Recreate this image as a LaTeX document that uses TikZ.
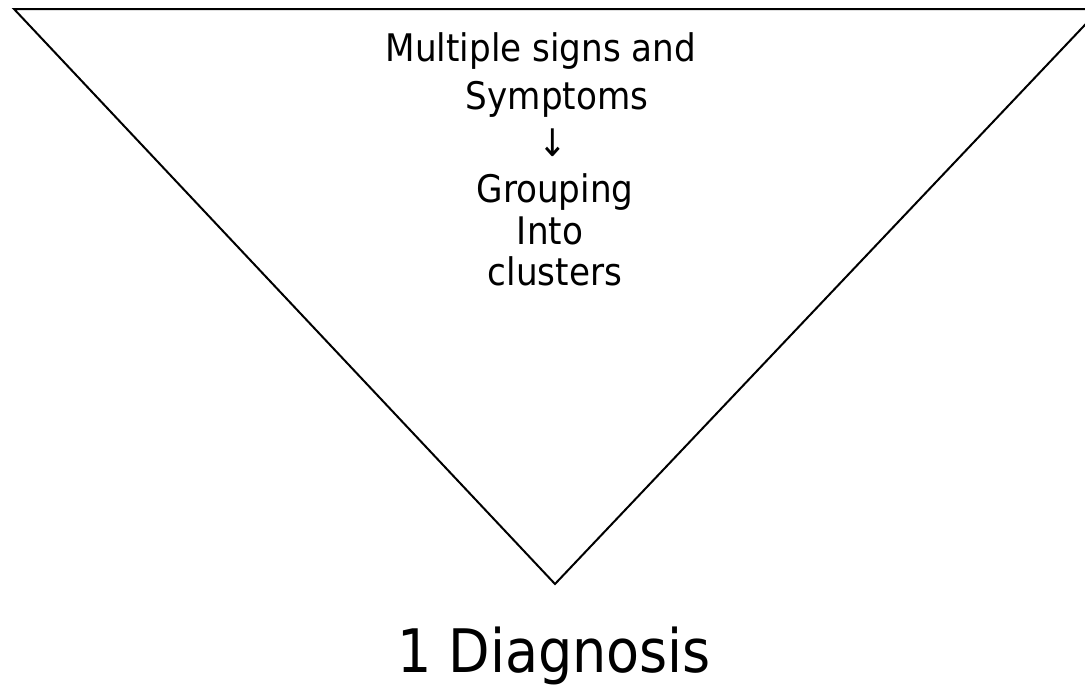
\documentclass[tikz,border=0pt]{standalone}
\usepackage{fontspec}
\setmainfont{DejaVu Sans Condensed}
\usetikzlibrary{positioning}
\tikzstyle{texto} = [inner sep=0pt, anchor=base, font=\fontsize{38}{44}\selectfont]
\tikzstyle{titulo} = [inner sep=0pt, anchor=base, font=\fontsize{60}{70}\selectfont]

\begin{document}
\begin{tikzpicture}[x=1pt, y=-1pt]
	\useasboundingbox (0,0) rectangle (1085,691);
	\clip (0,0) rectangle (1085,691);
	% triangulo invertido
	\coordinate (izq) at (14,9);
	\coordinate (der) at (1100,9);
	\coordinate (vertice) at (555,584);
	\draw[line width=2pt] (izq) -- (der) -- (vertice) -- cycle;
	% textos
	\node[texto] (signos) at (541,61) {Multiple signs and};
	\node[texto] (sintomas) at (557,109) {Symptoms};
	\node[texto] (flecha) at (553,156) {↓};
	\node[texto] (agrupar) at (555,202) {Grouping};
	\node[texto] (dentro) at (550,244) {Into};
	\node[texto] (grupos) at (555,285) {clusters};
	\node[titulo] (diagnostico) at (554,672) {1 Diagnosis};
\end{tikzpicture}
\end{document}
